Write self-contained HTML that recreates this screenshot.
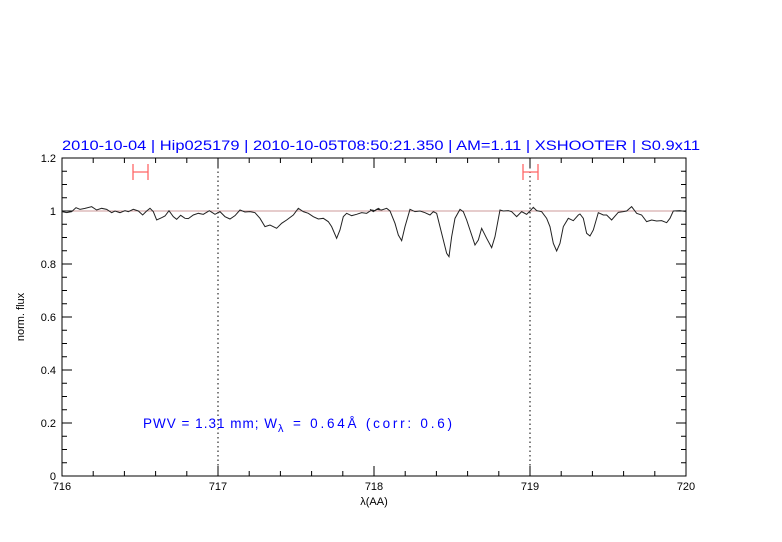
<!DOCTYPE html>
<html><head><style>body{margin:0;background:#fff}svg{display:block}text{font-family:"Liberation Sans",sans-serif}</style></head><body>
<svg width="782" height="542" viewBox="0 0 782 542">
<text x="62" y="150" fill="#0000ff" font-size="13.5" textLength="638" lengthAdjust="spacingAndGlyphs">2010-10-04 | Hip025179 | 2010-10-05T08:50:21.350 | AM=1.11 | XSHOOTER | S0.9x11</text>
<rect x="62" y="158" width="624" height="318" fill="none" stroke="#000" stroke-width="1"/>
<line x1="62" y1="211" x2="686" y2="211" stroke="#c99" stroke-width="1"/>
<line x1="218" y1="158" x2="218" y2="476" stroke="#000" stroke-dasharray="1.5,3"/>
<line x1="530" y1="158" x2="530" y2="476" stroke="#000" stroke-dasharray="1.5,3"/>
<g stroke="#f66" stroke-width="1.3" fill="none">
<path d="M133 172H148M133 164V180M148 164V180"/>
<path d="M523 172H538M523 164V180M538 164V180"/>
</g>
<g id="ticks" stroke="#000" stroke-width="1"></g>
<g stroke="#222" stroke-width="3" fill="none">
<polyline transform="translate(60,150) scale(0.3333)" points="6,185 20,188 35,185 48,173 60,178 75,175 95,170 110,180 125,175 140,178 155,188 165,183 180,188 195,182 205,185 220,178 235,183 248,195 260,183 270,175 280,185 290,210 305,203 315,198 327,182 340,200 350,208 362,196 375,205 385,206 400,195 415,190 430,193 448,182 465,193 480,185 495,200 510,207 525,197 540,180 555,186 570,185 585,188 600,205 615,230 630,225 650,235 665,220 680,210 700,195 715,175 730,185 745,190 760,200 775,207 790,205 805,215 815,230 830,265 840,240 850,200 860,190 875,197 890,193 905,188 920,190 935,180 945,182 955,175 960,178"/>
<polyline transform="translate(370,150) scale(0.3333)" points="0,178 10,185 20,178 35,180 50,175 60,183 75,220 85,255 95,272 105,230 120,178 135,185 150,183 165,188 180,195 190,185 200,190 215,250 230,310 237,320 245,260 255,205 270,178 280,185 290,210 300,240 315,285 325,270 335,235 350,265 365,293 375,260 390,180 400,183 415,182 425,185 440,200 455,185 470,193 480,183 490,172 500,182 515,185 530,205 540,230 550,280 560,303 570,280 580,230 595,205 610,212 625,195 630,192 640,205 650,250 660,258 670,240 685,188 700,195 710,195 725,210 745,187 760,185 770,183 785,170 800,190 815,195 830,215 845,210 860,213 875,212 890,218 900,205 910,183 930,182 948,185"/>
</g>
<g font-size="11" text-anchor="middle" fill="#000">
<text x="62" y="490">716</text><text x="218" y="490">717</text><text x="374" y="490">718</text><text x="530" y="490">719</text><text x="686" y="490">720</text>
<text x="374" y="505">λ(AA)</text>
</g>
<g font-size="11" text-anchor="end" fill="#000">
<text x="56" y="480">0</text><text x="56" y="427">0.2</text><text x="56" y="374">0.4</text><text x="56" y="321">0.6</text><text x="56" y="268">0.8</text><text x="56" y="215">1</text><text x="56" y="162">1.2</text>
</g>
<text transform="translate(24,317) rotate(-90)" font-size="11" text-anchor="middle">norm. flux</text>
<g fill="#0000ff" font-size="13.5">
<text x="143" y="428" textLength="134" lengthAdjust="spacing">PWV = 1.31 mm; W</text>
<text x="278" y="432" font-size="11">λ</text>
<text x="293" y="428" textLength="159" lengthAdjust="spacing">= 0.64Å (corr: 0.6)</text>
</g>
<script>
var g=document.getElementById('ticks'),s='';
for(var i=0;i<=20;i++){var x=62+i*31.2,L=(i%5==0)?10:5;s+='M'+x+' 476V'+(476-L)+'M'+x+' 158V'+(158+L);}
for(var j=0;j<=24;j++){var y=476-j*13.25,L=(j%4==0)?10:5;s+='M62 '+y+'H'+(62+L)+'M686 '+y+'H'+(686-L);}
var p=document.createElementNS('http://www.w3.org/2000/svg','path');p.setAttribute('d',s);g.appendChild(p);
</script>
</svg>
</body></html>
